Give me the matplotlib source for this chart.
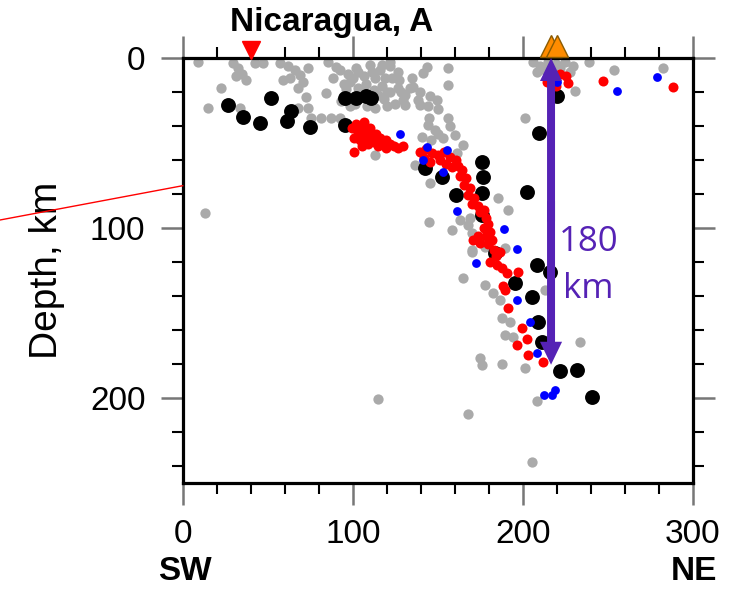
import numpy as np
import matplotlib
matplotlib.use('Agg')
import matplotlib.pyplot as plt
from matplotlib.lines import Line2D

plt.rcParams['font.family'] = ['Liberation Sans', 'DejaVu Sans']

# --- data (distance along profile in km, depth in km) ---
gray_x = [8.8, 22.4, 14.7, 29.4, 32.4, 34.7, 37.1, 31.2, 42.4, 47.1, 57.1, 61.8, 65.9, 68.8,
          70.6, 67.6, 58.8, 62.9, 73.5, 72.4, 67.6, 73.5, 85.3, 90.0, 84.1, 75.3, 81.2, 87.1,
          92.4, 33.5, 98.2, 102.9, 107.6, 112.4, 117.1, 121.8, 126.5, 129.4, 124.7, 101.2,
          104.1, 118.8, 112.9, 92.4, 97.1, 101.8, 106.5, 111.2, 115.9, 121.8, 126.5, 112.9,
          121.8, 143.5, 155.9, 133.5, 139.4, 145.3, 149.4, 138.2, 144.1, 155.9, 139.4, 130.6,
          201.2, 155.9, 144.1, 148.2, 152.9, 150.0, 140.6, 164.7, 205.9, 210.0, 214.7, 219.4,
          224.7, 229.4, 212.9, 227.6, 230.6, 253.5, 282.4, 238.8, 136.5, 145.3, 161.2, 185.3,
          191.2, 144.7, 158.2, 162.9, 168.8, 167.6, 170.0, 170.0, 177.6, 189.4, 164.7, 170.0,
          177.6, 182.4, 186.5, 187.6, 192.4, 189.4, 194.1, 212.9, 233.5, 174.7, 175.9, 187.6,
          201.2, 208.2, 167.6, 205.3, 114.7, 12.9, 141.2, 135.3, 130.6,
          110.0, 115.0, 120.0, 100.0, 96.0, 123.0, 108.0, 98.0, 208.0, 222.0, 217.0, 160.0,
          145.0, 88.0, 118.0, 127.0,
          95.0, 105.0, 113.0, 120.0, 128.0, 93.0, 103.0, 117.0, 110.0, 135.0, 150.0, 146.0,
          157.0]
gray_d = [2.2, 17.5, 29.2, 2.8, 5.7, 9.2, 12.8, 10.4, 2.8, 2.8, 2.8, 4.5, 6.9, 9.8,
          13.9, 17.5, 12.8, 11.6, 5.7, 22.8, 29.2, 29.2, 2.2, 5.1, 20.4, 35.1, 35.1, 35.1,
          35.1, 29.2, 13.9, 17.5, 15.1, 18.6, 16.3, 19.8, 17.5, 24.5, 26.9, 26.9,
          21.6, 11.6, 29.2, 6.9, 9.2, 5.7, 10.4, 8.1, 6.9, 4.5, 8.1, 56.9,
          2.2, 5.1, 5.7, 17.5, 19.8, 22.2, 24.5, 24.5, 28.1, 15.7, 27.5, 27.5,
          35.1, 35.1, 39.2, 42.2, 46.9, 44.5, 46.3, 51.0, 2.2, 4.5, 2.2, 3.4,
          2.2, 4.5, 6.9, 8.1, 19.2, 6.9, 5.7, 2.2, 62.8, 73.4, 55.7, 82.2,
          89.2, 96.3, 101.0, 95.1, 93.9, 98.1, 102.8, 112.8, 111.0, 111.6, 129.2, 113.9,
          133.4, 138.1, 142.2, 152.8, 155.1, 162.8, 164.0, 136.3, 166.9, 176.3, 180.4, 179.8,
          182.2, 201.6, 209.2, 237.5, 200.4, 91.0, 8.7, 16.9, 21.6,
          25.0, 22.0, 28.0, 12.0, 18.0, 12.0, 28.0, 28.0, 8.0, 6.0, 9.0, 45.0,
          35.0, 12.0, 24.0, 13.0,
          15.0, 20.0, 12.0, 20.0, 20.0, 25.0, 8.0, 4.0, 4.0, 12.0, 30.0, 48.0,
          40.0]

black_x = [26.5, 35.3, 45.3, 51.8, 63.5, 61.2, 74.7, 95.3, 101.8, 107.6, 110.6, 95.3,
           220.0, 209.4, 175.9, 176.5, 142.4, 152.4, 160.6, 175.9, 202.4, 175.9, 183.5,
           208.2, 215.9, 195.3, 205.3, 208.8, 211.2, 221.8, 231.8, 240.6]
black_d = [27.5, 34.5, 38.1, 23.4, 31.0, 36.9, 40.4, 23.4, 23.4, 22.2, 23.4, 39.2,
           22.2, 43.9, 61.0, 69.8, 64.5, 69.8, 80.4, 79.2, 78.6, 92.2, 114.5,
           121.6, 125.7, 132.2, 140.4, 155.1, 166.9, 184.0, 183.4, 199.2]

red_x = [99.4, 101.8, 104.1, 106.5, 102.9, 105.3, 107.6, 110.0, 100.6, 104.1, 107.6, 111.2,
         113.5, 115.9, 108.8, 112.4, 117.1, 119.4, 121.8, 124.1, 126.5, 129.4, 100.6, 105.3,
         114.7, 119.4,
         139.4, 142.9, 146.5, 150.0, 153.5, 157.1, 160.6, 141.8, 145.3, 151.2, 154.7, 158.2,
         161.8, 164.1, 162.9, 166.5, 165.3, 168.8, 167.6, 171.2, 170.0, 173.5, 174.7, 177.1,
         178.2, 179.4, 177.1, 180.6, 178.2, 173.5, 181.8, 179.4, 182.9, 184.7, 184.1,
         170.6, 174.7, 180.6, 186.5, 180.6, 184.7, 187.6, 190.6, 197.1, 189.4, 188.2, 191.2,
         199.4, 202.4, 196.5, 202.9, 211.8,
         214.1, 217.6, 221.8, 225.3, 226.5, 219.4, 247.1, 288.2]
red_d = [41.0, 38.6, 39.8, 37.5, 43.4, 44.5, 42.2, 41.0, 46.9, 48.1, 46.9, 45.7,
         44.5, 46.9, 50.4, 49.2, 49.2, 48.1, 50.4, 51.6, 52.8, 51.6, 55.1, 51.6,
         51.6, 52.8,
         55.1, 53.4, 55.7, 56.9, 55.1, 58.1, 59.8, 58.6, 61.0, 59.8, 62.2, 64.0,
         63.4, 65.7, 69.2, 70.4, 74.5, 76.3, 80.4, 82.2, 85.7, 86.9, 90.4, 89.2,
         94.0, 97.5, 99.8, 102.2, 104.5, 104.5, 106.9, 109.2, 112.8, 113.9, 116.3,
         106.9, 108.6, 107.5, 113.9, 119.8, 121.6, 123.3, 126.3, 125.7, 136.3, 133.9, 146.9,
         158.6, 165.1, 168.6, 174.5, 178.6,
         13.9, 11.6, 9.2, 10.4, 14.5, 16.3, 13.4, 16.9]

blue_x = [127.6, 143.5, 155.3, 141.2, 152.9, 161.2, 188.8, 196.5, 172.4, 196.5, 204.1,
          208.2, 212.6, 216.9, 219.1, 220.0, 255.3, 278.8]
blue_d = [44.5, 52.2, 54.0, 59.8, 66.9, 89.8, 100.4, 112.2, 120.4, 142.2, 155.1,
          173.4, 198.0, 198.0, 195.1, 13.9, 19.2, 11.0]

trench_x = [40.0]
volcano_x = [216.2, 220.3]
arrow_x = 216.5
slab_top, slab_bottom = 0.0, 180.4

purple = '#5522B5'

fig = plt.figure(figsize=(7.31, 5.91), dpi=100)
ax = fig.add_axes([0.2503, 0.1827, 0.6977, 0.7191])

# seismicity
ax.scatter(gray_x, gray_d, s=55, c='#AAAAAA', linewidths=0, zorder=2)
ax.scatter(black_x, black_d, s=115, c='black', linewidths=0, zorder=3)
ax.scatter(red_x, red_d, s=52, c='#FF0000', linewidths=0, zorder=4)
ax.scatter(blue_x, blue_d, s=40, c='#0000FF', linewidths=0, zorder=5)

# trench and volcanoes above the frame
ax.plot(trench_x, [-4.6], marker='v', ms=13, color='#FF0000', mec='#FF0000',
        ls='none', clip_on=False, zorder=6)
ax.plot(volcano_x, [-6.8, -6.8], marker='^', ms=16, color='#FF8C00', mec='#8A5A00',
        mew=1, ls='none', clip_on=False, zorder=6)

# double headed arrow (slab depth below the arc)
mid = (slab_top + slab_bottom) / 2
for start, end in ((mid + 6, slab_top), (mid - 6, slab_bottom)):
    ax.arrow(arrow_x, start, 0, end - start, width=4.7, head_width=13, head_length=13.5,
             length_includes_head=True, color=purple, lw=0, zorder=7)
ax.text(238.5, 108.5, '180', color=purple, fontsize=25, family=['Open Sans'],
        ha='center', va='center', zorder=8)
ax.text(238.5, 136.0, 'km', color=purple, fontsize=25, family=['Open Sans'],
        ha='center', va='center', zorder=8)

ax.set_xlim(0, 300)
ax.set_ylim(250, 0)

ax.set_xticks([0, 100, 200, 300])
ax.set_xticks(np.arange(0, 301, 20), minor=True)
ax.set_yticks([0, 100, 200])
ax.set_yticks(np.arange(0, 251, 20), minor=True)
ax.tick_params(which='both', direction='out', top=True, right=True, labelsize=24)
ax.tick_params(which='major', length=16, width=1.8, color='#777777')
ax.tick_params(which='minor', length=8, width=1.5, color='black')
ax.tick_params(axis='x', which='major', pad=10)
ax.tick_params(axis='y', which='major', pad=11)
for sp in ax.spines.values():
    sp.set_linewidth(2.3)
ax.set_ylabel('Depth, km', fontsize=28, labelpad=18)

fig.text(332 / 731, 1 - 31 / 591, 'Nicaragua, A', fontsize=24, fontweight='bold',
         ha='center', va='baseline')
fig.text(185 / 731, 1 - 580 / 591, 'SW', fontsize=24, fontweight='bold',
         ha='center', va='baseline')
fig.text(694 / 731, 1 - 580 / 591, 'NE', fontsize=24, fontweight='bold',
         ha='center', va='baseline')

# profile line coming in from the left
fig.add_artist(Line2D([0.0, 182.7 / 731], [1 - 220 / 591, 1 - 185.7 / 591],
                      color='#FF0000', lw=1.0))

fig.savefig('out.png', dpi=100)
